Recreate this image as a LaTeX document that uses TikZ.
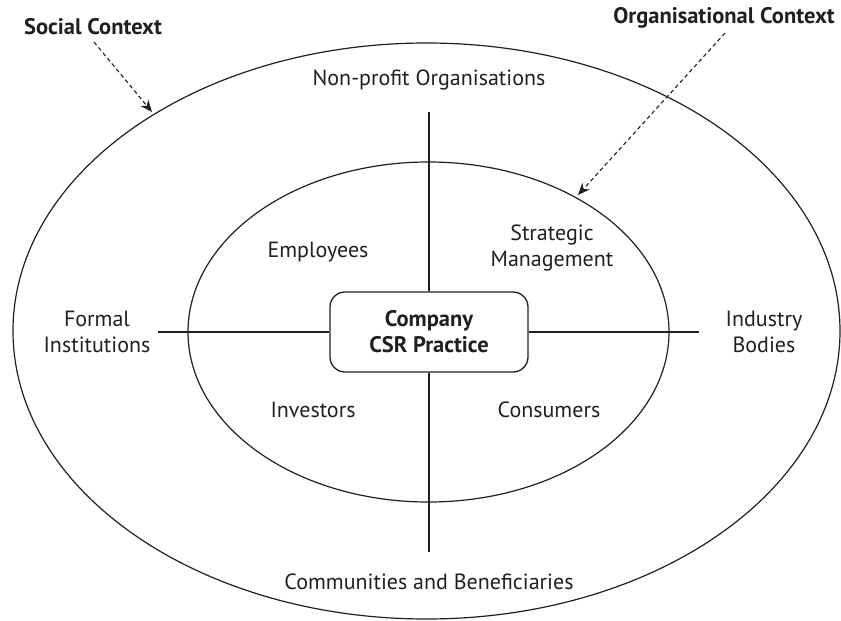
\documentclass[tikz,border=0pt]{standalone}
\usepackage{fontspec}
\setmainfont{PT Sans}
\usetikzlibrary{arrows.meta}
\definecolor{ink}{HTML}{231F20}
\tikzset{
  lbl/.style={text=ink, font=\fontsize{22}{26}\selectfont, align=center, inner sep=0pt},
  bold/.style={lbl, font=\fontsize{22.5}{26}\selectfont\bfseries},
  ring/.style={draw=ink, line width=1.2pt},
  axis/.style={draw=ink, line width=1.3pt},
  ptr/.style={draw=ink, line width=1.1pt, dash pattern=on 4pt off 3pt, -{Stealth[length=12pt,width=10pt]}},
  core/.style={bold, draw=ink, line width=1.3pt, rounded corners=15pt, fill=white, minimum width=198pt, minimum height=80pt}
}
\begin{document}
\begin{tikzpicture}[x=1pt,y=-1pt]
\useasboundingbox (0,0) rectangle (841,621);
\fill[white] (0,0) rectangle (841,621);
% ellipses
\draw[ring] (426.5,331) ellipse [x radius=413.5, y radius=288];
\draw[ring] (428.5,332) ellipse [x radius=240.5, y radius=170];
% central box
\node[core] (csr) at (429,332) {Company\\CSR Practice};
% axis end points
\coordinate (top) at (429,112);
\coordinate (bot) at (429,552);
\coordinate (lft) at (158,332);
\coordinate (rgt) at (699,332);
\draw[axis] (csr.north) -- (top);
\draw[axis] (csr.south) -- (bot);
\draw[axis] (csr.west) -- (lft);
\draw[axis] (csr.east) -- (rgt);
% labels
\node[lbl] (npo) at (429,80) {Non-profit Organisations};
\node[lbl] (com) at (429,582) {Communities and Beneficiaries};
\node[lbl] (fi) at (97,332) {Formal\\Institutions};
\node[lbl] (ib) at (764,332) {Industry\\Bodies};
\node[lbl] (emp) at (318,252) {Employees};
\node[lbl] (sm) at (552,248) {Strategic\\Management};
\node[lbl] (inv) at (313,410) {Investors};
\node[lbl] (con) at (549,410) {Consumers};
% context labels and pointers
\node[bold] (soc) at (93,27) {Social Context};
\node[bold] (org) at (724,18) {Organisational Context};
\coordinate (socend) at (152,112);
\coordinate (orgend) at (578,195);
\draw[ptr] (94,42) -- (socend);
\draw[ptr] (725,33) -- (orgend);
\end{tikzpicture}
\end{document}
